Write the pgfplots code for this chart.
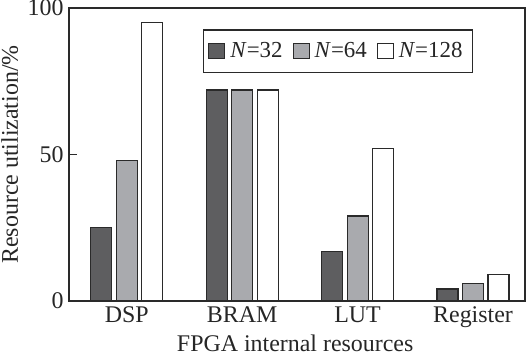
\documentclass[border=0pt]{standalone}
\usepackage{fontspec}
\setmainfont{Liberation Serif}
\usepackage{pgfplots}
\pgfplotsset{compat=1.18}
\definecolor{darkbar}{HTML}{5E5E60}
\definecolor{lightbar}{HTML}{A9AAAE}
\definecolor{edge}{HTML}{2A2A2A}
\begin{document}
\begin{tikzpicture}
\begin{axis}[
  scale only axis,
  width=228bp, height=146.5bp,
  xmin=-0.5, xmax=3.45,
  ymin=0, ymax=100,
  ytick={0,50,100},
  xtick={0,1,2,3},
  xticklabels={DSP,BRAM,LUT,Register},
  extra x ticks={0.5,1.5,2.5},
  extra x tick labels={},
  extra x tick style={major tick length=4bp},
  major x tick style={draw=none},
  xtick pos=bottom, ytick pos=left,
  tick align=inside,
  major tick length=4bp,
  axis line style={draw=edge, line width=0.8bp},
  every tick/.style={draw=edge, line width=0.7bp},
  /pgf/number format/assume math mode=true,
  tick label style={font=\fontsize{12}{14}\selectfont, text=black!85},
  label style={font=\fontsize{12}{14}\selectfont, text=black!85},
  xticklabel style={anchor=base, yshift=-6.5bp},
  yticklabel style={inner xsep=2.5bp},
  xlabel={FPGA internal resources},
  ylabel={Resource utilization/\%},
  xlabel style={at={(axis description cs:0.496,-0.174)}, anchor=base},
  ylabel style={at={(axis description cs:-0.112,0.5)}, anchor=base},
  ybar=2.25bp,
  bar width=10.5bp,
  legend style={at={(axis description cs:0.2936,0.927)}, anchor=north west, draw=edge, line width=0.6bp,
    legend columns=3, font=\fontsize{11.5}{13.5}\selectfont, text=black!85,
    inner xsep=2.5bp, inner ysep=4bp,
    nodes={inner xsep=2.5bp},
    /tikz/every even column/.append style={column sep=2.5bp}},
  legend image code/.code={\draw[#1, line width=0.5bp] (0bp,-3.85bp) rectangle (8bp,3.85bp);},
]
\addplot[fill=darkbar, draw=edge, line width=0.6bp] coordinates {(0,25) (1,72) (2,17) (3,4.1)};
\addplot[fill=lightbar, draw=edge, line width=0.6bp] coordinates {(0,48) (1,72) (2,29) (3,6)};
\addplot[fill=white, draw=edge, line width=0.6bp] coordinates {(0,95) (1,72) (2,52) (3,9.1)};
\legend{\textit{N}=32,\textit{N}=64,\textit{N}=128}
\coordinate (bbsw) at (rel axis cs:0,0);
\coordinate (bbne) at (rel axis cs:1,1);
\end{axis}
\pgfresetboundingbox
\path[use as bounding box] ([xshift=-34.5bp,yshift=-28.5bp]bbsw) rectangle ([xshift=2bp,yshift=4bp]bbne);
\end{tikzpicture}
\end{document}
